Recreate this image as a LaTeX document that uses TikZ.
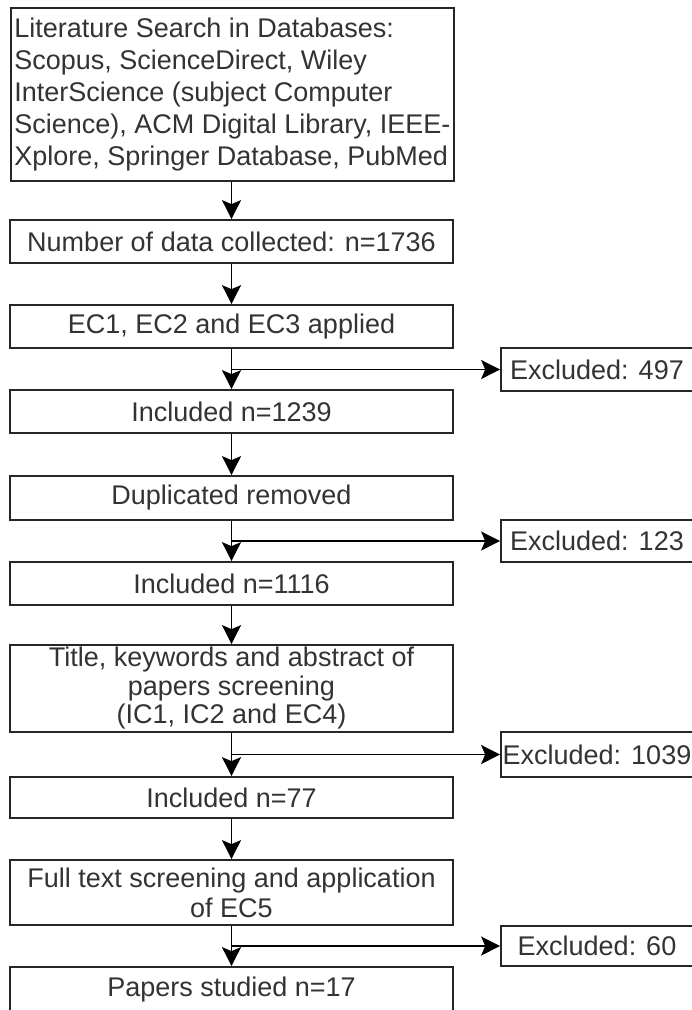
\documentclass[tikz,border=0pt]{standalone}
\usepackage{fontspec}
\setmainfont{Liberation Sans}
\usetikzlibrary{arrows.meta}
\begin{document}
\begin{tikzpicture}[x=1pt,y=-1pt,
  box/.style={draw=black!85, line width=1.7pt, minimum width=443pt, inner sep=0pt, align=center, font=\fontsize{27}{32}\selectfont, text=black!80},
  exbox/.style={draw=black!85, line width=1.7pt, minimum width=192pt, inner sep=0pt, align=center, font=\fontsize{27}{32}\selectfont, text=black!80},
  arr/.style={draw=black, line width=1.7pt, -{Stealth[length=19pt,width=19pt,inset=4pt]}}]
\clip (0,0) rectangle (692,1010);
\fill[white] (0,0) rectangle (692,1010);
\node[box, minimum height=173pt, inner xsep=2pt, align=left, anchor=north west] (b1) at (10,7)
  {Literature Search in Databases:\\Scopus, ScienceDirect, Wiley\\InterScience (subject Computer\\Science), ACM Digital Library, IEEE-\\Xplore, Springer Database, PubMed};
\node[box, minimum height=43pt] (b2) at (231.5,241.5) {Number of data collected: n=1736};
\node[box, minimum height=43pt] (b3) at (231.5,326.5) {EC1, EC2 and EC3 applied};
\node[box, minimum height=43pt] (b4) at (231.5,411.5) {Included n=1239};
\node[box, minimum height=44pt] (b5) at (231.5,498) {Duplicated removed};
\node[box, minimum height=43pt] (b6) at (231.5,583.5) {Included n=1116};
\node[box, minimum height=87pt, font=\fontsize{27}{28.5}\selectfont] (b7) at (231.5,688.5) {Title, keywords and abstract of\\papers screening\\(IC1, IC2 and EC4)};
\node[box, minimum height=41pt] (b8) at (231.5,797.5) {Included n=77};
\node[box, minimum height=65pt, font=\fontsize{27}{30}\selectfont] (b9) at (231.5,892.5) {Full text screening and application\\of EC5};
\node[box, minimum height=46pt] (b10) at (231.5,990) {Papers studied n=17};
\node[exbox, minimum height=43pt] (e1) at (597,369.5) {Excluded: 497};
\node[exbox, minimum height=42pt] (e2) at (597,541) {Excluded: 123};
\node[exbox, minimum height=45pt] (e3) at (597,754.5) {Excluded: 1039};
\node[exbox, minimum height=40pt] (e4) at (597,946) {Excluded: 60};
\draw[arr] (b1.south -| b2.north) -- (b2.north);
\draw[arr] (b2) -- (b3);
\draw[arr] (b3) -- (b4);
\draw[arr] (b4) -- (b5);
\draw[arr] (b5) -- (b6);
\draw[arr] (b6) -- (b7);
\draw[arr] (b7) -- (b8);
\draw[arr] (b8) -- (b9);
\draw[arr] (b9) -- (b10);
\coordinate (j1) at (b3.south |- e1.west);
\coordinate (j2) at (b5.south |- e2.west);
\coordinate (j3) at (b7.south |- e3.west);
\coordinate (j4) at (b9.south |- e4.west);
\draw[arr] (j1) -- (e1);
\draw[arr] (j2) -- (e2);
\draw[arr] (j3) -- (e3);
\draw[arr] (j4) -- (e4);
\end{tikzpicture}
\end{document}
